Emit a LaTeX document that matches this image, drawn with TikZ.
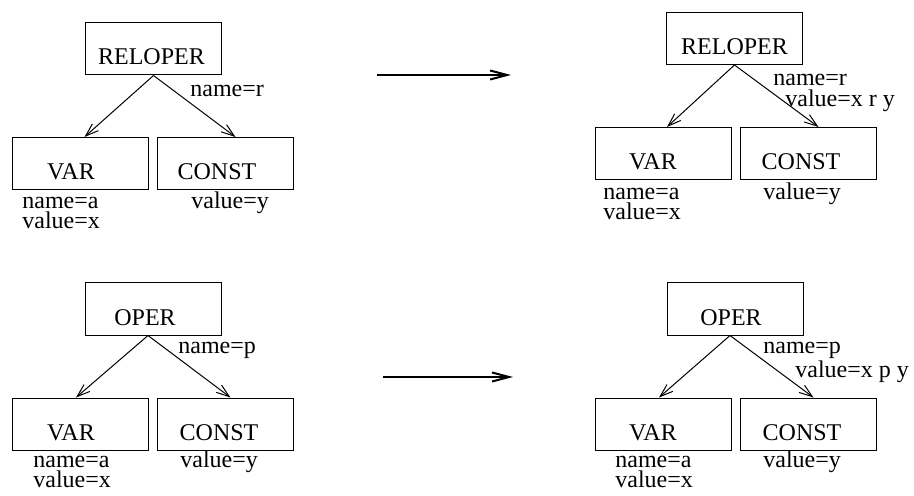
\documentclass[tikz,border=0pt]{standalone}
\usepackage{fontspec}
\setmainfont{Liberation Serif}
\usetikzlibrary{arrows.meta}
\tikzset{
	tbox/.style={draw, line width=0.5pt, inner sep=0pt, minimum width=68pt, minimum height=26pt,
		text height=21pt, text depth=5pt, font=\fontsize{12}{14}\selectfont,
		execute at end node={\kern#1}},
	tbox/.default=0pt,
	lbl/.style={anchor=base west, inner sep=0pt, font=\fontsize{12}{14}\selectfont},
	link/.style={line width=0.5pt, -{Straight Barb[length=6.5pt,width=4.5pt]}},
	rewrite/.style={line width=1pt, -{Straight Barb[length=8.5pt,width=4.5pt]}}
}
\begin{document}
\begin{tikzpicture}[x=0.5pt, y=-0.5pt]
				\useasboundingbox (0,0) rectangle (914,496);

				% Relational operator, before
				\node[tbox=2pt] (rel1) at (153.5,49) {RELOPER};
				\node[tbox=9.5pt] (var1) at (80.5,163.5) {VAR};
				\node[tbox=8.5pt] (const1) at (225.5,163.5) {CONST};
				\draw[link] (rel1.south) -- ([xshift=2pt]var1.north);
				\draw[link] (rel1.south) -- ([xshift=5pt]const1.north);
				\node[lbl] (rname1) at (190,97) {name=r};
				\node[lbl] (vname1) at (22,209) {name=a};
				\node[lbl] (vval1) at (22,229) {value=x};
				\node[lbl] (cval1) at (191,209) {value=y};

				% Relational operator, after
				\node[tbox] (rel2) at (734.5,38.5) {RELOPER};
				\node[tbox=10pt] (var2) at (663,153.5) {VAR};
				\node[tbox=7.5pt] (const2) at (808.5,153.5) {CONST};
				\draw[link] (rel2.south) -- ([xshift=2pt]var2.north);
				\draw[link] (rel2.south) -- ([xshift=5pt]const2.north);
				\node[lbl] (rname2) at (773,86) {name=r};
				\node[lbl] (rval2) at (785,107) {value=x r y};
				\node[lbl] (vname2) at (603,200) {name=a};
				\node[lbl] (vval2) at (603,220) {value=x};
				\node[lbl] (cval2) at (763,200) {value=y};

				% Operator, before
				\node[tbox=8pt] (oper1) at (153,309) {OPER};
				\node[tbox=9pt] (var3) at (80,424) {VAR};
				\node[tbox=6.5pt] (const3) at (225.5,424) {CONST};
				\draw[link] ([xshift=-2.5pt]oper1.south) -- ([xshift=-2pt]var3.north);
				\draw[link] ([xshift=-2.5pt]oper1.south) -- ([xshift=2.5pt]const3.north);
				\node[lbl] (oname1) at (178,353) {name=p};
				\node[lbl] (vname3) at (33,467) {name=a};
				\node[lbl] (vval3) at (33,487) {value=x};
				\node[lbl] (cval3) at (180,467) {value=y};

				% Operator, after
				\node[tbox=4pt] (oper2) at (735,309) {OPER};
				\node[tbox=10pt] (var4) at (663,424) {VAR};
				\node[tbox=6.5pt] (const4) at (808.5,424) {CONST};
				\draw[link] ([xshift=-2.5pt]oper2.south) -- ([xshift=-2pt]var4.north);
				\draw[link] ([xshift=-2.5pt]oper2.south) -- ([xshift=2.5pt]const4.north);
				\node[lbl] (oname2) at (763,353) {name=p};
				\node[lbl] (oval2) at (795,377) {value=x p y};
				\node[lbl] (vname4) at (615,467) {name=a};
				\node[lbl] (vval4) at (615,487) {value=x};
				\node[lbl] (cval4) at (763,467) {value=y};

				% Rewrite arrows
				\coordinate (top1) at (377,75);
				\coordinate (top2) at (511,75);
				\coordinate (bot1) at (383,377);
				\coordinate (bot2) at (513,377);
				\draw[rewrite] (top1) -- (top2);
				\draw[rewrite] (bot1) -- (bot2);
\end{tikzpicture}
\end{document}
